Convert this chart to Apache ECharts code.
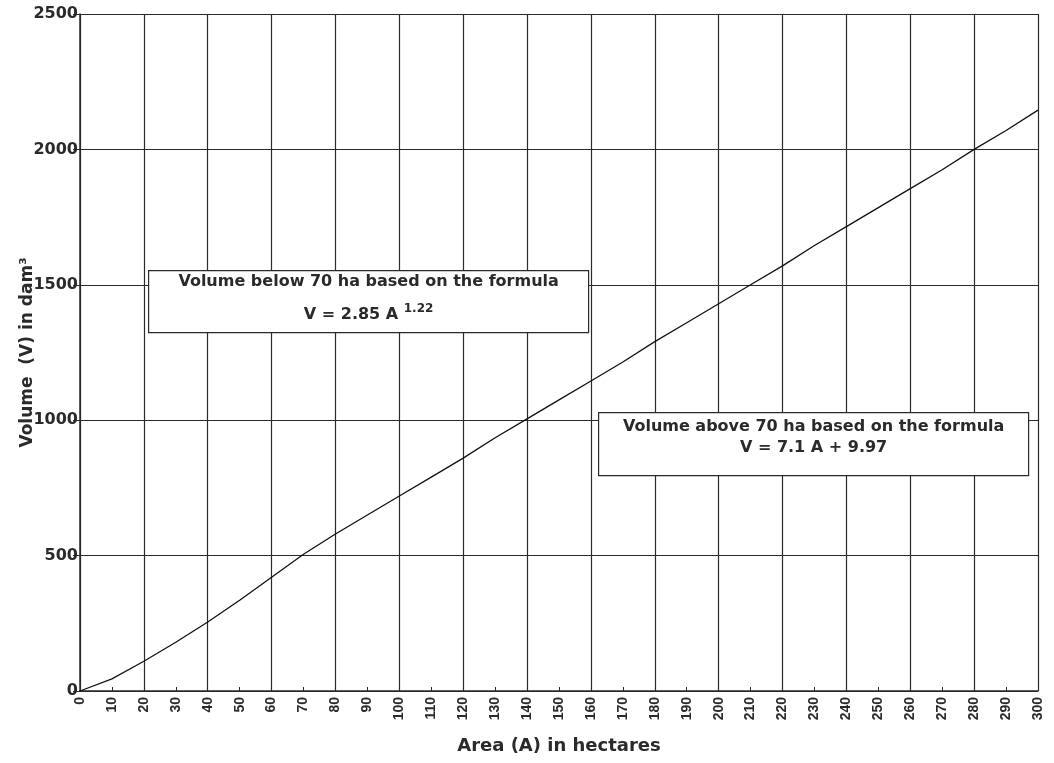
<!DOCTYPE html>
<html>
<head>
<meta charset="utf-8">
<script src="https://cdn.jsdelivr.net/npm/echarts@6/dist/echarts.min.js"></script>
<style>
html,body{margin:0;padding:0;background:#fff;}
#c{width:1054px;height:763px;}
</style>
</head>
<body>
<div id="c"></div>
<script>
// Area (ha) and volume (dam³)
const areas = [0,10,20,30,40,50,60,70,80,90,100,110,120,130,140,150,160,170,180,190,200,210,220,230,240,250,260,270,280,290,300];
const volumes = [0,45,110,180,255,335,420,505,580,650,720,790,860,935,1005,1075,1145,1215,1290,1360,1430,1500,1570,1645,1715,1785,1855,1925,2000,2070,2145];
const yTicks = [0,500,1000,1500,2000,2500];
const note1Title = 'Volume below 70 ha based on the formula';
const note1Formula = ['V = 2.85 A ', '1.22'];
const note2Title = 'Volume above 70 ha based on the formula';
const note2Formula = 'V = 7.1 A + 9.97';

const chart = echarts.init(document.getElementById('c'));
const dark = '#2a2a2a';
const wide = 'DejaVu Sans';
const narrow = 'Liberation Sans';
const grid = {left:80, right:16, top:14, bottom:72, outerBoundsMode:'none', containLabel:false};

chart.setOption({
  backgroundColor:'#ffffff',
  animation:false,
  grid: grid,
  xAxis: [
    {
      type:'value', min:0, max:300, interval:10,
      axisLine:{show:true, lineStyle:{color:dark, width:1.5}},
      axisTick:{show:true, inside:true, length:4, lineStyle:{color:dark}},
      axisLabel:{rotate:90, color:dark, fontFamily:narrow, fontWeight:'bold', fontSize:14, margin:6},
      splitLine:{show:false},
      name:'Area (A) in hectares', nameLocation:'middle', nameGap:46,
      nameTextStyle:{color:dark, fontFamily:wide, fontWeight:'bold', fontSize:18}
    },
    {
      type:'value', min:0, max:300, interval:20, position:'bottom',
      axisLine:{show:false}, axisTick:{show:false}, axisLabel:{show:false},
      splitLine:{show:true, lineStyle:{color:dark, width:1.2}}
    }
  ],
  yAxis: {
    type:'value', min:0, max:2500, interval:500,
    axisLine:{show:true, lineStyle:{color:dark, width:1.5}},
    axisTick:{show:true, length:7, lineStyle:{color:dark}},
    axisLabel:{color:dark, fontFamily:wide, fontWeight:'bold', fontSize:16, margin:2,
      formatter:v => yTicks.includes(v) ? String(v) : ''},
    splitLine:{show:true, lineStyle:{color:dark, width:1.2}},
    name:'Volume  (V) in dam³', nameLocation:'middle', nameGap:44, nameRotate:90,
    nameMoveOverlap:false,
    nameTextStyle:{color:dark, fontFamily:wide, fontWeight:'bold', fontSize:17}
  },
  series: [{
    type:'line', xAxisIndex:0,
    data: areas.map((a,i)=>[a, volumes[i]]),
    symbol:'none', smooth:false,
    lineStyle:{color:'#111', width:1.3}
  }],
  graphic: [
    {
      type:'group', left:148, top:270, z:100,
      children:[
        {type:'rect', z:100, shape:{x:0,y:0,width:440,height:62},
         style:{fill:'#ffffff', stroke:dark, lineWidth:1.2}},
        {type:'text', z:101, x:220, y:3, style:{text:note1Title, align:'center',
          font:'bold 16px "DejaVu Sans"', fill:dark}},
        {type:'text', z:101, x:220, y:29, style:{
          text:'{a|'+note1Formula[0]+'}{b|'+note1Formula[1]+'}', align:'center', fill:dark,
          rich:{a:{fontFamily:wide, fontWeight:'bold', fontSize:16, fill:dark, lineHeight:24, padding:[6,0,0,0]},
                b:{fontFamily:wide, fontWeight:'bold', fontSize:12, fill:dark, lineHeight:24, padding:[0,0,6,0]}}
        }}
      ]
    },
    {
      type:'group', left:598, top:412, z:100,
      children:[
        {type:'rect', z:100, shape:{x:0,y:0,width:430,height:63},
         style:{fill:'#ffffff', stroke:dark, lineWidth:1.2}},
        {type:'text', z:101, x:215, y:6, style:{text:note2Title, align:'center',
          font:'bold 16px "DejaVu Sans"', fill:dark}},
        {type:'text', z:101, x:215, y:27, style:{text:note2Formula, align:'center',
          font:'bold 16px "DejaVu Sans"', fill:dark}}
      ]
    }
  ]
});
</script>
</body>
</html>
